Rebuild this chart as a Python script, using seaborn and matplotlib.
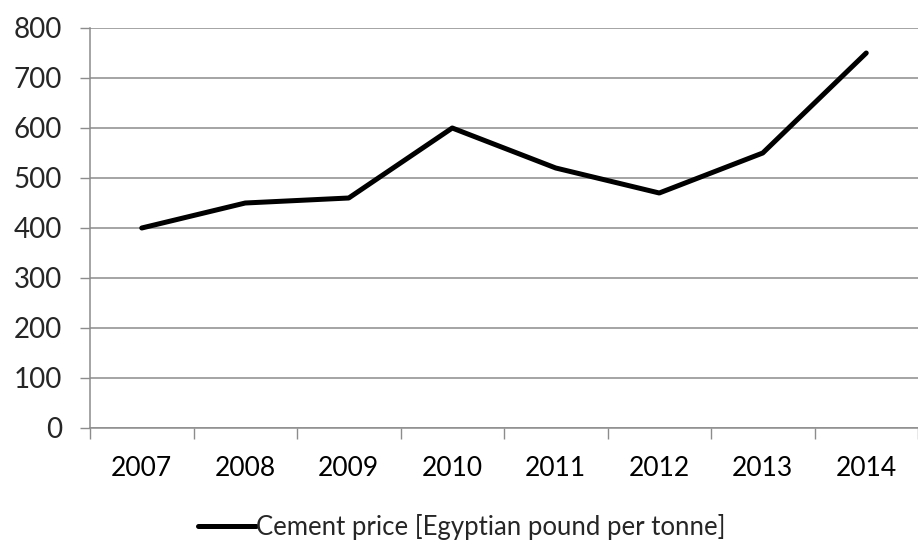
import matplotlib
matplotlib.use("Agg")
import matplotlib.pyplot as plt
import seaborn as sns
import pandas as pd
import numpy as np

years = ["2007", "2008", "2009", "2010", "2011", "2012", "2013", "2014"]
cement_price = [400, 450, 460, 600, 520, 470, 550, 750]
y_ticks = [0, 100, 200, 300, 400, 500, 600, 700, 800]
series_label = "Cement price [Egyptian pound per tonne]"

sns.set_theme(style="white")
plt.rcParams["font.family"] = ["Lato", "DejaVu Sans"]

df = pd.DataFrame({"year": years, "price": cement_price})

fig = plt.figure(figsize=(9.18, 5.45), dpi=100)
ax = fig.add_axes([90 / 918, 1 - 428 / 545, 1 - 90 / 918, (428 - 28) / 545])

sns.lineplot(data=df, x="year", y="price", ax=ax, color="black", linewidth=3.6,
             label=series_label, sort=False)

ax.set_xlim(-0.5, len(years) - 0.5)
ax.set_ylim(0, 800)
ax.set_yticks(y_ticks)
ax.set_yticklabels([str(v) for v in y_ticks])
ax.set_xticks(range(len(years)))
ax.set_xticklabels(years)
ax.set_xticks(np.arange(-0.5, len(years)), minor=True)
ax.tick_params(axis="x", which="major", length=0, pad=20, labelsize=19, colors="black")
ax.tick_params(axis="x", which="minor", length=8, width=1.0, color="#8c8c8c", direction="out", bottom=True)
ax.tick_params(axis="y", length=7, width=1.0, color="#8c8c8c", direction="out", pad=13, labelsize=20, left=True)

ax.yaxis.grid(True, color="#8c8c8c", linewidth=1.1)
ax.xaxis.grid(False)
ax.set_axisbelow(True)
for s in ["top", "right"]:
    ax.spines[s].set_visible(False)
for s in ["left", "bottom"]:
    ax.spines[s].set_color("#8c8c8c")
    ax.spines[s].set_linewidth(1.1)
ax.set_xlabel("")
ax.set_ylabel("")

leg = ax.legend(loc="center", bbox_to_anchor=(462 / 918, 1 - 527 / 545),
                bbox_transform=fig.transFigure, frameon=False, fontsize=18.5,
                handlelength=2.25, handletextpad=0.0, borderaxespad=0)

fig.savefig("out.png", dpi=100)
